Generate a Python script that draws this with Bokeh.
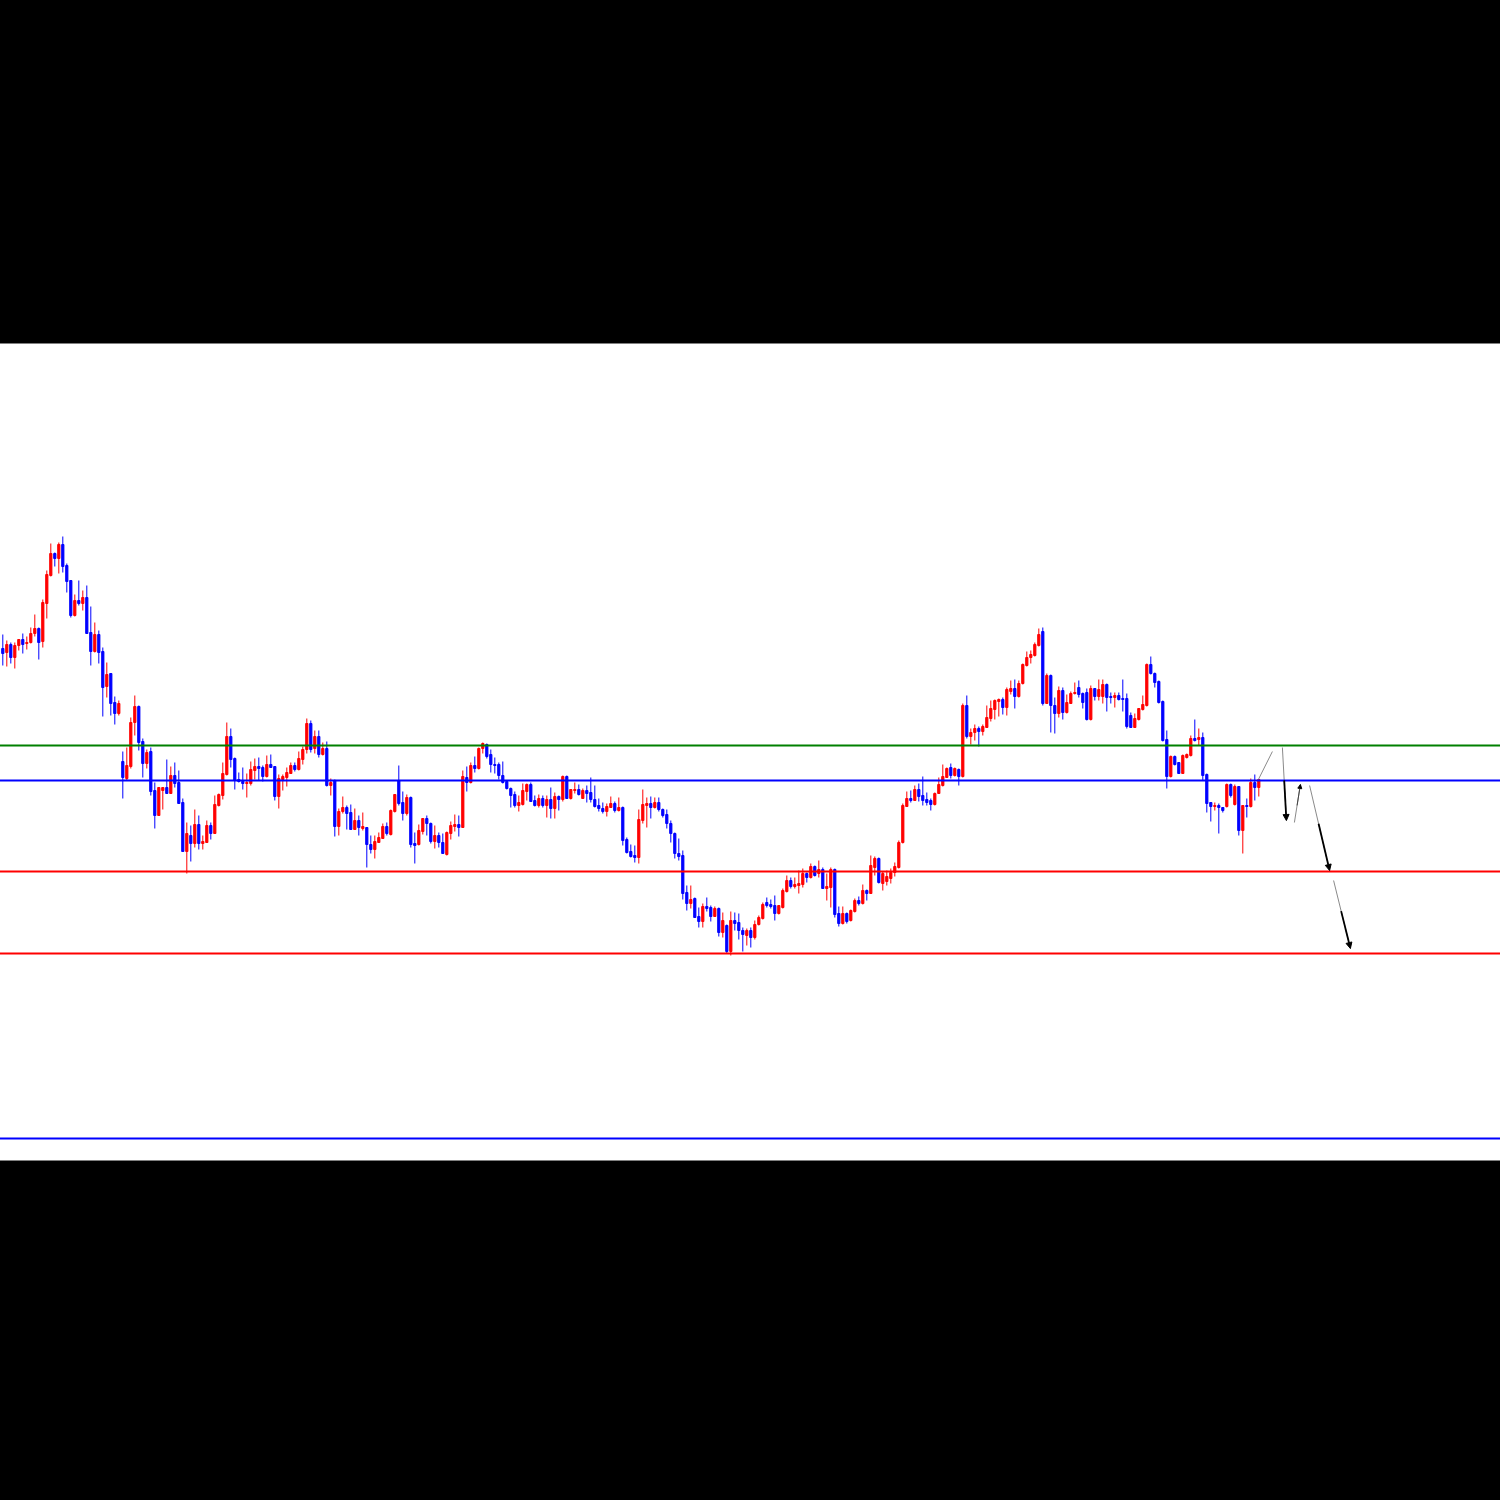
import numpy as np
from bokeh.plotting import figure
from bokeh.models import Range1d, Span, Arrow, NormalHead
from bokeh.embed import file_html
from bokeh.resources import INLINE

# ---- candle data (price points) ----
open_ = [
552,548,556,543,555,561,557,558,567,572,
559,597,625,647,642,656,635,620,585,600,
597,603,568,549,566,549,514,527,498,487,
439,422,434,478,494,459,437,449,410,385,
410,413,407,425,418,398,349,365,357,376,
357,358,375,367,395,405,426,464,442,421,
419,417,417,430,434,433,424,436,434,404,
421,423,427,435,431,441,451,477,452,464,
446,452,415,420,374,389,393,388,371,380,
372,373,356,351,358,362,374,366,389,420,
398,387,403,357,356,369,382,377,359,365,
358,346,367,374,376,373,423,418,435,432,
452,456,446,436,436,425,419,412,406,395,
396,409,416,400,395,402,395,401,392,404,
401,424,402,410,411,402,410,408,401,395,
392,389,393,397,390,393,361,349,345,343,
380,395,397,393,398,391,386,377,367,347,
345,308,297,302,284,279,294,293,284,292,
268,275,249,280,278,270,265,270,263,276,
282,298,296,295,287,293,309,320,314,315,
316,327,323,334,327,331,312,313,331,287,
277,287,280,289,300,297,310,307,333,342,
317,319,322,328,333,358,394,402,400,411,
405,401,400,396,407,415,423,433,425,431,
424,495,464,468,472,469,473,482,491,499,
501,493,509,512,504,517,535,543,545,555,
569,497,525,495,487,510,488,497,507,513,
507,508,481,512,504,504,516,504,503,505,
502,502,485,473,481,491,495,536,527,519,
499,461,424,444,438,427,443,445,462,461,
463,426,398,394,395,393,394,416,396,414,
370,395,394,418,413,
]
high = [
566,560,558,558,561,567,564,573,586,573,
601,630,657,648,658,664,637,620,606,620,
610,615,594,578,570,553,538,527,504,500,
449,453,483,505,495,462,451,453,418,413,
413,441,434,438,430,402,378,375,391,385,
365,380,378,405,407,438,478,472,443,428,
433,427,439,442,443,435,445,446,434,426,
426,433,438,438,449,454,482,480,470,470,
458,459,422,421,392,404,395,396,392,385,
388,373,365,365,368,377,378,391,406,435,
409,406,404,368,376,382,385,378,375,368,
367,369,379,386,385,430,434,438,444,453,
458,457,451,443,438,439,420,413,409,405,
417,417,418,405,406,405,405,413,408,405,
425,425,411,418,416,412,415,423,415,402,
398,397,404,399,403,394,363,356,355,391,
411,403,404,403,403,392,391,380,368,362,
350,315,315,303,293,297,303,295,294,293,
288,276,289,288,287,273,272,273,280,285,
298,303,301,305,295,312,325,323,323,330,
332,328,337,335,340,333,327,333,332,294,
294,288,291,302,304,316,311,345,344,343,
329,330,332,338,360,397,409,410,415,417,
424,408,402,408,423,436,433,437,433,432,
497,505,472,476,474,476,495,500,501,502,
503,513,520,521,520,537,549,550,558,572,
573,527,526,503,514,513,506,509,518,520,
508,512,515,512,521,521,517,508,508,508,
521,507,488,487,492,505,537,544,528,520,
500,470,445,445,438,446,447,465,481,472,
468,427,398,398,397,393,417,417,416,414,
395,402,422,426,421,
]
low = [
535,534,537,532,550,547,551,557,564,541,
553,582,624,634,627,628,608,583,584,595,
590,567,535,548,537,484,503,485,476,485,
402,420,432,465,450,423,432,405,372,385,
391,407,407,413,397,349,327,339,353,351,
351,358,361,367,394,401,425,433,411,418,
411,403,415,421,420,419,423,433,400,392,
410,414,427,429,430,436,447,448,447,443,
445,414,405,364,365,387,371,371,371,365,
370,333,347,342,358,362,365,365,388,395,
380,385,353,337,355,366,365,357,352,353,
347,345,361,369,364,373,409,417,428,431,
447,442,428,427,421,417,411,393,393,389,
395,400,399,394,393,393,383,382,382,390,
399,402,401,407,405,402,398,398,393,389,
387,384,393,388,389,355,347,343,338,337,
377,373,382,392,389,383,372,358,342,340,
301,290,292,283,273,273,289,279,284,264,
263,247,245,270,261,249,255,253,261,275,
281,293,292,280,286,292,308,312,312,307,
313,318,322,324,323,312,300,293,283,274,
276,277,279,288,295,296,300,307,325,317,
310,315,317,324,332,357,394,398,400,399,
395,395,390,395,407,414,423,422,424,415,
423,462,456,460,454,465,473,479,481,484,
486,485,506,492,503,516,534,537,544,554,
495,497,468,467,483,481,487,497,506,503,
492,480,480,500,500,497,489,497,493,500,
489,472,473,473,480,490,494,526,513,497,
459,412,423,435,427,427,442,444,459,455,
420,388,379,390,367,388,393,403,395,365,
347,383,393,400,404,
]
close = [
547,556,543,555,561,556,558,567,572,558,
598,626,647,642,656,634,619,585,600,597,
603,567,549,566,548,513,526,497,487,497,
423,435,478,494,458,437,448,409,385,413,
413,407,425,417,397,349,367,357,376,357,
359,375,367,396,406,427,464,441,420,419,
417,418,431,434,432,424,436,433,404,422,
424,428,435,431,442,451,477,451,464,446,
452,415,418,374,389,393,387,371,380,373,
374,356,351,359,363,374,367,390,406,397,
387,403,356,355,370,382,377,359,365,358,
347,368,375,376,373,424,418,435,432,452,
457,444,436,435,425,418,412,405,395,398,
410,416,399,395,402,395,401,392,404,401,
424,402,411,411,406,410,407,401,394,392,
389,394,397,390,393,360,348,344,343,381,
396,397,393,398,391,385,377,367,347,344,
307,297,301,283,279,294,292,284,292,268,
280,249,280,277,270,266,270,263,276,283,
296,295,294,287,295,310,320,314,316,317,
327,323,334,325,331,312,314,331,286,277,
287,279,290,300,297,310,307,335,342,318,
327,324,328,334,358,395,402,400,411,404,
400,398,396,407,416,424,432,425,432,424,
495,464,468,472,469,474,483,492,500,501,
493,511,512,504,517,536,543,546,556,566,
497,525,495,487,510,488,498,507,508,506,
498,481,512,504,511,516,503,503,505,501,
501,474,473,482,492,496,536,527,518,498,
460,424,444,436,427,445,446,462,460,463,
425,397,394,395,393,390,416,405,414,370,
395,394,418,413,421,
]

# horizontal levels
level_prices = [455, 420, 329, 247, 62]
level_colors = ["#008000", "#0000ff", "#ff0000", "#ff0000", "#0000ff"]

# projection arrows (bar index, price)
arrow_x0 = [313.9, 319.9, 322.9, 326.7, 332.7]
arrow_y0 = [421, 453, 378, 415, 320]
arrow_x1 = [317.4, 320.9, 324.4, 331.7, 336.9]
arrow_y1 = [449, 380, 416, 330, 252]
arrow_head = [False, True, True, True, True]
arrow_strong = [False, True, False, True, True]

assert len(open_) == len(high) == len(low) == len(close), (len(open_), len(high), len(low), len(close))

n = len(open_)
x = np.arange(n)
o = np.array(open_, dtype=float)
c = np.array(close, dtype=float)
h = np.maximum(np.array(high, dtype=float), np.maximum(o, c))
l = np.minimum(np.array(low, dtype=float), np.minimum(o, c))
colors = np.where(c >= o, "#ff0000", "#0000ff").tolist()

# figure is 4px wider than the window and shifted 2px left so the frame edge is hidden
p = figure(width=1504, height=1500,
           x_range=Range1d(-1.075, 374.925), y_range=Range1d(40, 857),
           output_backend="svg", toolbar_location=None,
           x_axis_location=None, y_axis_location=None,
           min_border_top=343, min_border_bottom=340,
           min_border_left=0, min_border_right=0)
p.background_fill_color = "white"
p.border_fill_color = "black"
p.outline_line_color = None
p.xgrid.visible = False
p.ygrid.visible = False

for lv, col in zip(level_prices, level_colors):
    p.add_layout(Span(location=lv, dimension="width", line_color=col, line_width=2))

p.segment(x0=x, y0=h, x1=x, y1=l, line_color=colors, line_width=1)
p.vbar(x=x, width=0.55, top=np.maximum(o, c), bottom=np.minimum(o, c),
       fill_color=colors, line_color=colors, line_width=1)

for x0, y0, x1, y1, head, strong in zip(arrow_x0, arrow_y0, arrow_x1, arrow_y1, arrow_head, arrow_strong):
    p.segment(x0=[x0], y0=[y0], x1=[x1], y1=[y1], line_color="#8a8a8a", line_width=1)
    if head:
        xm = x0 + (x1 - x0) * 0.45
        ym = y0 + (y1 - y0) * 0.45
        p.add_layout(Arrow(x_start=xm, y_start=ym, x_end=x1, y_end=y1,
                           line_color="#000000" if strong else "#444444",
                           line_width=1.8 if strong else 1.0,
                           end=NormalHead(size=6 if strong else 4, fill_color="#000000",
                                          line_color="#000000", line_width=1)))

html = file_html(p, INLINE)
html = html.replace("</head>", "<style>html,body{margin:0;padding:0;background:#000;overflow:hidden;}body{margin-left:-2px;}</style></head>", 1)
open("out.html", "w").write(html)
